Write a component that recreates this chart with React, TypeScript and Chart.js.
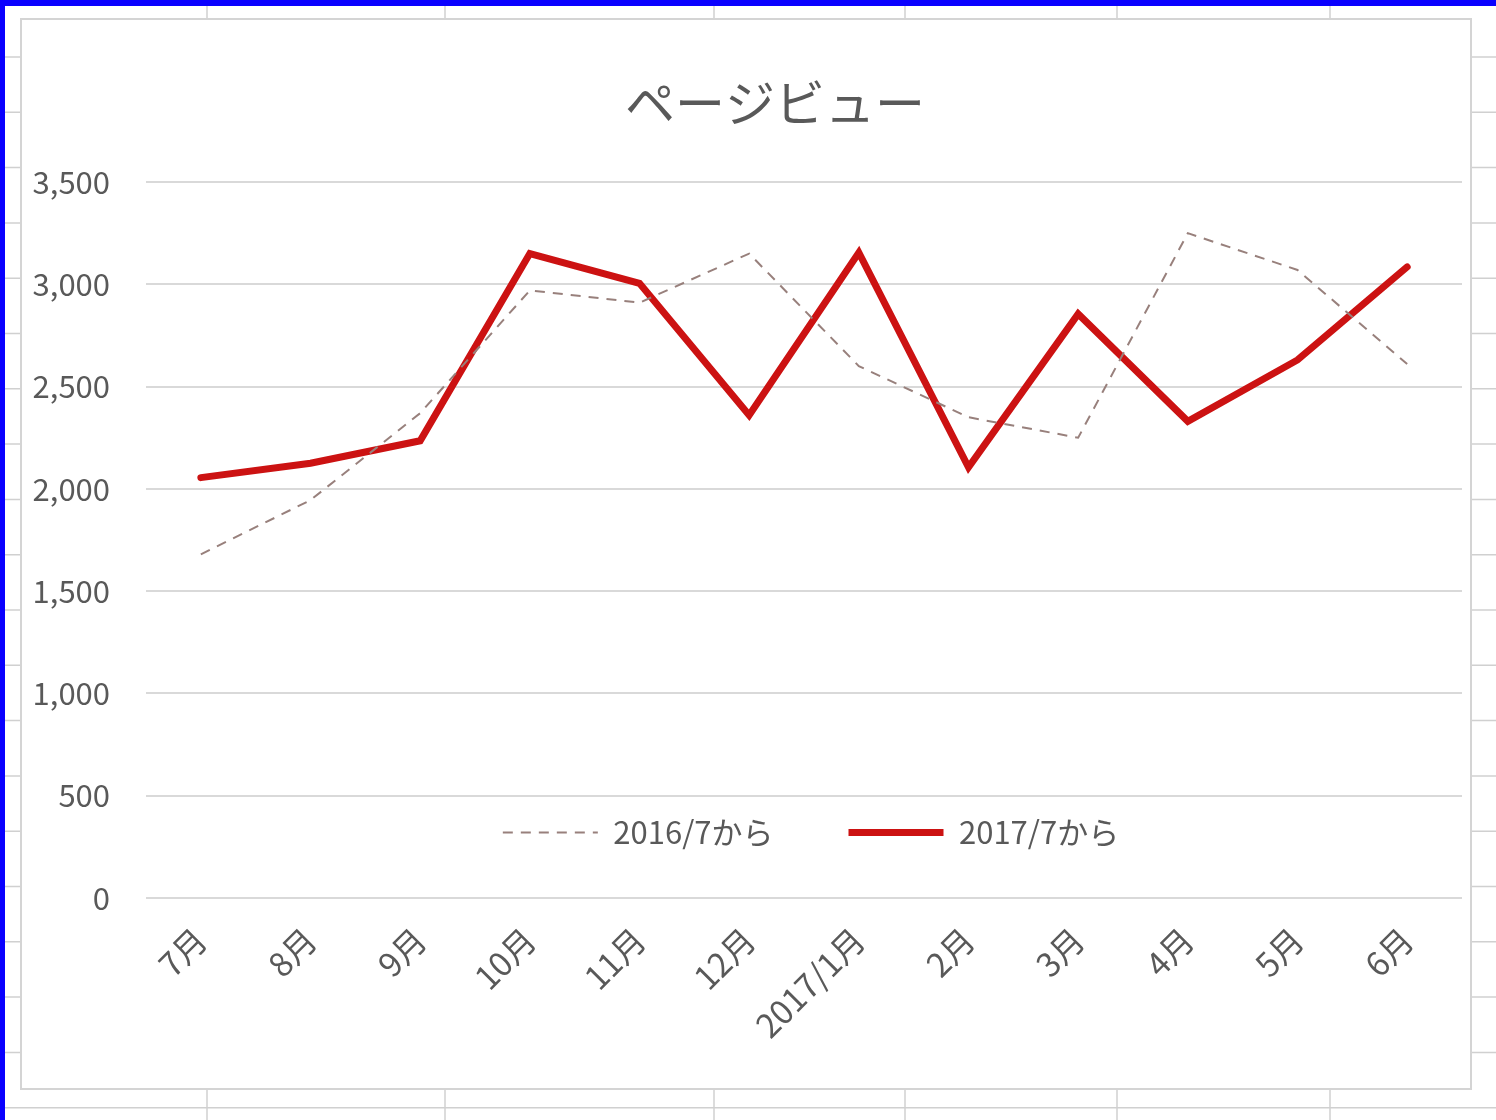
import React, { useEffect, useRef } from "react";
import { Chart, registerables } from "chart.js";

Chart.register(...registerables);

// ---- data ----
const categories = ["7月", "8月", "9月", "10月", "11月", "12月", "2017/1月", "2月", "3月", "4月", "5月", "6月"];
const series2016 = [1680, 1945, 2370, 2970, 2910, 3150, 2600, 2350, 2250, 3250, 3070, 2610];
const series2017 = [2055, 2125, 2235, 3150, 3005, 2360, 3155, 2105, 2855, 2330, 2630, 3085];
const seriesLabels = ["2016/7から", "2017/7から"];
const titleText = "ページビュー";
const yMin = 0;
const yMax = 3500;
const yStep = 500;

const FONT = "'Noto Sans CJK JP', 'Noto Sans', sans-serif";
const TEXT = "#595959";
const LEGEND_TOP = 742;

const sheetPlugin = {
  id: "sheet",
  beforeDraw(chart: any) {
    const ctx = chart.ctx as CanvasRenderingContext2D;
    const W = chart.width;
    const H = chart.height;
    ctx.save();
    ctx.fillStyle = "#ffffff";
    ctx.fillRect(0, 0, W, H);
    ctx.strokeStyle = "#d0d0d0";
    ctx.lineWidth = 1.5;
    for (const x of [207, 445, 714, 905, 1117, 1330]) {
      ctx.beginPath();
      ctx.moveTo(x, 0);
      ctx.lineTo(x, H);
      ctx.stroke();
    }
    for (let y = 57; y < H; y += 55.3) {
      ctx.beginPath();
      ctx.moveTo(0, y);
      ctx.lineTo(W, y);
      ctx.stroke();
    }
    // chart frame
    ctx.fillStyle = "#ffffff";
    ctx.fillRect(21, 19, 1450, 1070);
    ctx.strokeStyle = "#d4d4d4";
    ctx.lineWidth = 2;
    ctx.strokeRect(21, 19, 1450, 1070);
    // blue border
    ctx.fillStyle = "#0a00ff";
    ctx.fillRect(0, 0, W, 6);
    ctx.fillRect(0, 0, 5, H);
    ctx.restore();
  },
};

const placePlugin = {
  id: "place",
  afterLayout(chart: any) {
    const lg = chart.legend;
    if (lg) {
      lg.top = LEGEND_TOP;
      lg.bottom = LEGEND_TOP + 130;
      lg.height = 130;
      lg.left = chart.chartArea.left + 14;
      lg.right = chart.chartArea.right;
      lg.width = lg.right - lg.left;
    }
    const tb = chart.titleBlock;
    if (tb) {
      tb.left = 54;
      tb.right = 1496;
      tb.width = tb.right - tb.left;
    }
  },
};

export default function App() {
  const ref = useRef<HTMLCanvasElement | null>(null);

  useEffect(() => {
    if (!ref.current) return;
    const chart = new Chart(ref.current, {
      type: "line",
      data: {
        labels: categories,
        datasets: [
          {
            label: seriesLabels[0],
            data: series2016,
            borderColor: "#98807c",
            backgroundColor: "#98807c",
            borderWidth: 2,
            borderDash: [10, 8],
            pointRadius: 0,
            tension: 0,
          },
          {
            label: seriesLabels[1],
            data: series2017,
            borderColor: "#cc1212",
            backgroundColor: "#cc1212",
            borderWidth: 7,
            borderCapStyle: "round",
            borderJoinStyle: "miter",
            pointRadius: 0,
            tension: 0,
          },
        ],
      },
      options: {
        responsive: false,
        animation: false,
        devicePixelRatio: 1,
        layout: { padding: { left: 20, right: 34, top: 0, bottom: 28 } },
        plugins: {
          title: {
            display: true,
            text: titleText,
            color: TEXT,
            font: { family: FONT, size: 50, weight: "normal" },
            padding: { top: 73, bottom: 49 },
          },
          legend: {
            display: true,
            position: "bottom",
            maxHeight: 1,
            labels: {
              color: TEXT,
              font: { family: FONT, size: 31 },
              boxWidth: 95,
              boxHeight: 0,
              padding: 75,
            },
          },
          tooltip: { enabled: false },
        },
        scales: {
          x: {
            offset: true,
            grid: { display: false, drawTicks: false },
            border: { display: false },
            ticks: {
              color: TEXT,
              font: { family: FONT, size: 33 },
              minRotation: 45,
              maxRotation: 45,
              autoSkip: false,
              padding: 22,
            },
            afterFit(scale: any) {
              scale.height = 193;
            },
          },
          y: {
            min: yMin,
            max: yMax,
            grid: { color: "#d9d9d9", lineWidth: 2, drawTicks: false },
            border: { display: false },
            ticks: {
              stepSize: yStep,
              color: TEXT,
              font: { family: FONT, size: 31 },
              padding: 36,
              callback: (v: any) => Number(v).toLocaleString("en-US"),
            },
            afterFit(scale: any) {
              scale.width = 126;
            },
          },
        },
      },
      plugins: [sheetPlugin, placePlugin],
    });
    return () => chart.destroy();
  }, []);

  return (
    <div style={{ position: "fixed", left: 0, top: 0, width: 1496, height: 1120 }}>
      <canvas ref={ref} width={1496} height={1120} style={{ display: "block" }} />
    </div>
  );
}
